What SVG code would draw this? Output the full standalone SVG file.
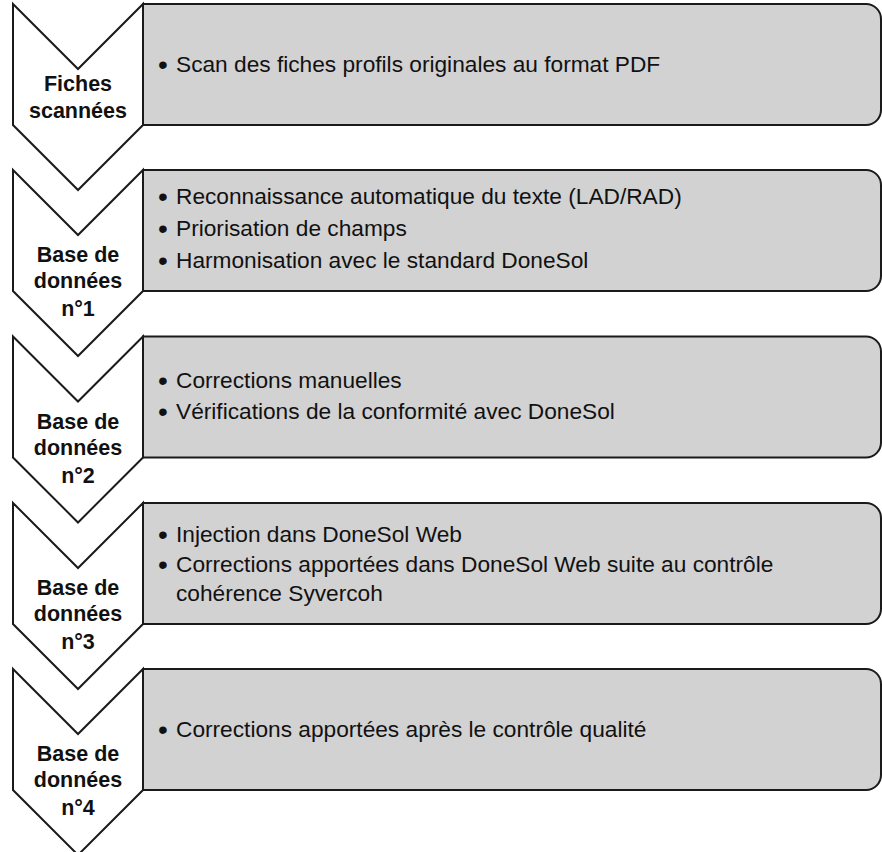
<svg xmlns="http://www.w3.org/2000/svg" width="882" height="852" viewBox="0 0 882 852">
<style>
.chev{fill:#ffffff;stroke:#1a1a1a;stroke-width:2;stroke-linejoin:miter}
.box{fill:#d2d2d2;stroke:#1a1a1a;stroke-width:2}
.lbl{font-family:"Liberation Sans",Arial,sans-serif;font-weight:bold;font-size:21.5px;fill:#111;text-anchor:middle}
.txt{font-family:"Liberation Sans",Arial,sans-serif;font-size:22.7px;fill:#111}
.bul{font-family:"Liberation Sans",Arial,sans-serif;font-size:28px;fill:#111;text-anchor:middle}
</style>
<defs>
<path id="chevron" d="M13,0 L78,65 L143,0 L143,121 L78,186 L13,121 Z"/>
<path id="panel" d="M143,0 H866 A15,15 0 0 1 881,15 V106 A15,15 0 0 1 866,121 H143 Z"/>
</defs>
<g id="connectors"/>

<g id="step1" transform="translate(0,4)">
<use href="#panel" class="box"/>
<use href="#chevron" class="chev"/>
<text class="lbl" x="78" y="87">Fiches</text>
<text class="lbl" x="78" y="114">scannées</text>
<text class="bul" x="163" y="70">•</text>
<text class="txt" x="176" y="68">Scan des fiches profils originales au format PDF</text>
</g>

<g id="step2" transform="translate(0,170)">
<use href="#panel" class="box"/>
<use href="#chevron" class="chev"/>
<text class="lbl" x="78" y="92">Base de</text>
<text class="lbl" x="78" y="118">données</text>
<text class="lbl" x="78" y="146">n°1</text>
<text class="bul" x="163" y="36">•</text>
<text class="txt" x="176" y="34">Reconnaissance automatique du texte (LAD/RAD)</text>
<text class="bul" x="163" y="68">•</text>
<text class="txt" x="176" y="66">Priorisation de champs</text>
<text class="bul" x="163" y="100">•</text>
<text class="txt" x="176" y="98">Harmonisation avec le standard DoneSol</text>
</g>

<g id="step3" transform="translate(0,336.5)">
<use href="#panel" class="box"/>
<use href="#chevron" class="chev"/>
<text class="lbl" x="78" y="92">Base de</text>
<text class="lbl" x="78" y="118">données</text>
<text class="lbl" x="78" y="146">n°2</text>
<text class="bul" x="163" y="53.5">•</text>
<text class="txt" x="176" y="51.5">Corrections manuelles</text>
<text class="bul" x="163" y="84.5">•</text>
<text class="txt" x="176" y="82.5">Vérifications de la conformité avec DoneSol</text>
</g>

<g id="step4" transform="translate(0,503)">
<use href="#panel" class="box"/>
<use href="#chevron" class="chev"/>
<text class="lbl" x="78" y="92">Base de</text>
<text class="lbl" x="78" y="118">données</text>
<text class="lbl" x="78" y="146">n°3</text>
<text class="bul" x="163" y="41">•</text>
<text class="txt" x="176" y="39">Injection dans DoneSol Web</text>
<text class="bul" x="163" y="71">•</text>
<text class="txt" x="176" y="69">Corrections apportées dans DoneSol Web suite au contrôle</text>
<text class="txt" x="176" y="98">cohérence Syvercoh</text>
</g>

<g id="step5" transform="translate(0,669)">
<use href="#panel" class="box"/>
<use href="#chevron" class="chev"/>
<text class="lbl" x="78" y="92">Base de</text>
<text class="lbl" x="78" y="118">données</text>
<text class="lbl" x="78" y="146">n°4</text>
<text class="bul" x="163" y="70">•</text>
<text class="txt" x="176" y="68">Corrections apportées après le contrôle qualité</text>
</g>
</svg>
